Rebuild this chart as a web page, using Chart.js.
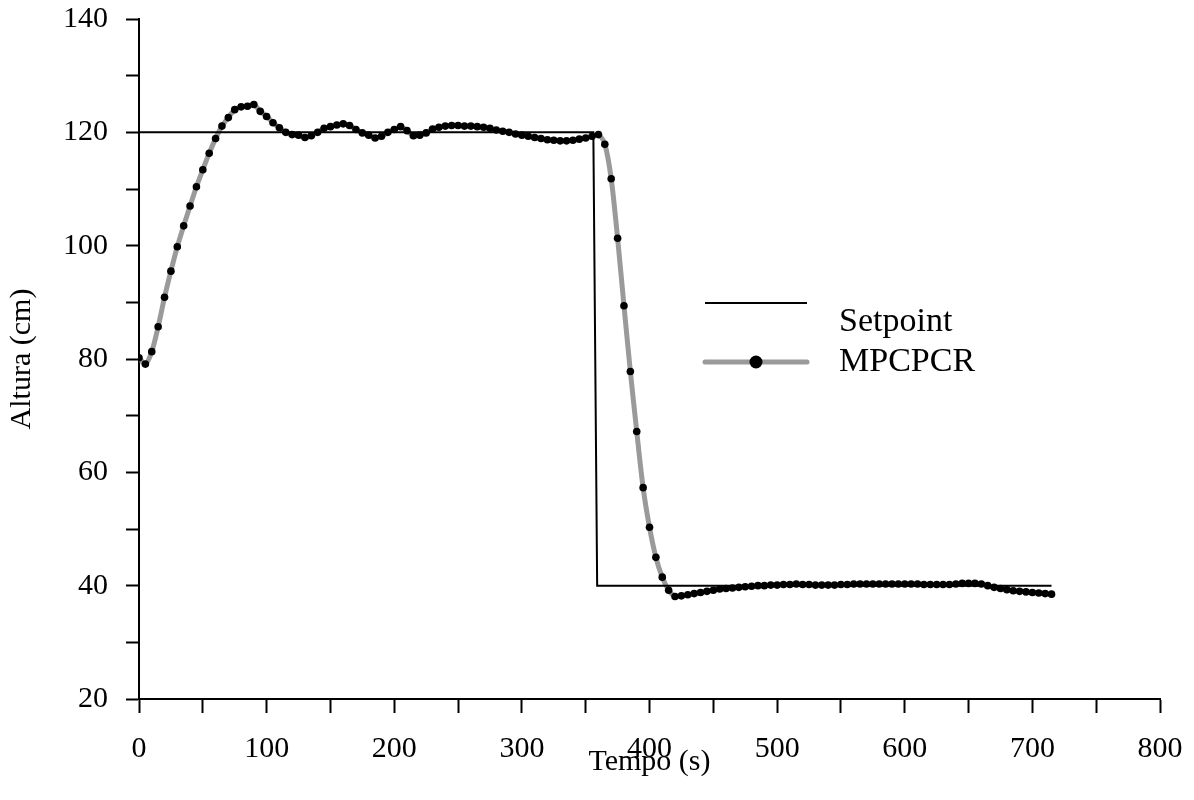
<!DOCTYPE html>
<html>
<head>
<meta charset="utf-8">
<script src="https://cdn.jsdelivr.net/npm/chart.js@4/dist/chart.umd.min.js"></script>
<style>
html,body{margin:0;padding:0;background:#fff;}
#wrap{width:1194px;height:800px;}
</style>
</head>
<body>
<div id="wrap"><canvas id="c" width="1194" height="800"></canvas></div>
<script>
const seriesNames = ['Setpoint', 'MPCPCR'];
const xTitle = 'Tempo (s)';
const yTitle = 'Altura (cm)';

const setpointTime = [0, 356, 359, 715];
const setpointValue = [120, 120, 40, 40];

const mpcTime = [
  0,5,10,15,20,25,30,35,40,45,50,55,60,65,70,75,80,85,90,95,
  100,105,110,115,120,125,130,135,140,145,150,155,160,165,170,175,180,185,190,195,
  200,205,210,215,220,225,230,235,240,245,250,255,260,265,270,275,280,285,290,295,
  300,305,310,315,320,325,330,335,340,345,350,355,360,365,370,375,380,385,390,395,
  400,405,410,415,420,425,430,435,440,445,450,455,460,465,470,475,480,485,490,495,
  500,505,510,515,520,525,530,535,540,545,550,555,560,565,570,575,580,585,590,595,
  600,605,610,615,620,625,630,635,640,645,650,655,660,665,670,675,680,685,690,695,
  700,705,710,715
];
const mpcValue = [
  80.2,79.1,81.3,85.7,90.9,95.5,99.8,103.5,107.0,110.4,113.4,116.3,118.9,121.1,122.6,124.0,124.5,124.6,124.9,123.7,
  122.8,121.7,120.8,120.0,119.6,119.5,119.1,119.4,120.0,120.7,121.0,121.3,121.5,121.2,120.5,119.9,119.5,119.0,119.3,120.0,
  120.5,121.0,120.3,119.4,119.5,119.9,120.6,120.9,121.1,121.2,121.2,121.1,121.1,121.0,120.9,120.7,120.4,120.2,120.0,119.7,
  119.5,119.3,119.1,118.9,118.7,118.6,118.5,118.5,118.6,118.8,119.0,119.3,119.6,117.9,111.8,101.3,89.4,77.8,67.2,57.3,
  50.3,45.0,41.5,39.2,38.1,38.2,38.4,38.6,38.8,39.0,39.2,39.4,39.5,39.6,39.7,39.8,39.9,40.0,40.0,40.1,
  40.1,40.2,40.2,40.3,40.2,40.2,40.1,40.1,40.1,40.1,40.2,40.2,40.3,40.3,40.3,40.3,40.3,40.3,40.3,40.3,
  40.3,40.3,40.3,40.2,40.2,40.2,40.2,40.2,40.3,40.4,40.4,40.4,40.3,40.0,39.7,39.5,39.3,39.1,39.0,38.9,
  38.8,38.7,38.6,38.5
];

const xMin = 0, xMax = 800, xStep = 50, xLabelEvery = 100;
const yMin = 20, yMax = 140, yStep = 10, yLabelEvery = 20;

const FONT = '"Liberation Serif", "Times New Roman", serif';
const FS = 30;
const LEG_FS = 34;
const GREY = '#9a9a9a';

const legendPlugin = {
  id: 'customLegend',
  afterDraw(chart) {
    const ctx = chart.ctx;
    const ca = chart.chartArea;
    const x0 = ca.left + 566, x1 = ca.left + 668, tx = ca.left + 700;
    const ds = chart.data.datasets;
    ctx.save();
    ctx.strokeStyle = ds[0].borderColor;
    ctx.lineWidth = ds[0].borderWidth;
    ctx.beginPath(); ctx.moveTo(x0, ca.top + 284); ctx.lineTo(x1, ca.top + 284); ctx.stroke();
    ctx.strokeStyle = ds[1].borderColor;
    ctx.lineWidth = ds[1].borderWidth;
    ctx.lineCap = 'round';
    ctx.beginPath(); ctx.moveTo(x0, ca.top + 343); ctx.lineTo(x1, ca.top + 343); ctx.stroke();
    ctx.fillStyle = ds[1].pointBackgroundColor;
    ctx.beginPath(); ctx.arc((x0 + x1) / 2, ca.top + 343, 6.5, 0, Math.PI * 2); ctx.fill();
    ctx.fillStyle = '#000';
    ctx.font = LEG_FS + 'px ' + FONT;
    ctx.textBaseline = 'middle';
    ctx.textAlign = 'left';
    ctx.fillText(ds[0].label, tx, ca.top + 303);
    ctx.fillText(ds[1].label, tx, ca.top + 343);
    ctx.restore();
  }
};

const ctx = document.getElementById('c').getContext('2d');
new Chart(ctx, {
  type: 'line',
  data: {
    datasets: [
      {
        label: seriesNames[0],
        data: setpointTime.map((t, i) => ({x: t, y: setpointValue[i]})),
        borderColor: '#000',
        borderWidth: 2,
        pointRadius: 0,
        tension: 0,
        order: 0
      },
      {
        label: seriesNames[1],
        data: mpcTime.map((t, i) => ({x: t, y: mpcValue[i]})),
        borderColor: GREY,
        borderWidth: 5,
        pointRadius: 3.8,
        pointBackgroundColor: '#000',
        pointBorderColor: '#000',
        pointBorderWidth: 0,
        tension: 0.3,
        order: 1
      }
    ]
  },
  options: {
    responsive: false,
    animation: false,
    events: [],
    layout: { padding: { left: 0, right: 34, top: 19, bottom: 0 } },
    plugins: { legend: { display: false }, tooltip: { enabled: false } },
    scales: {
      x: {
        type: 'linear',
        min: xMin, max: xMax,
        afterFit(s) { s.height = 101; s.paddingLeft = 0; s.paddingRight = 0; },
        border: { color: '#000', width: 2 },
        grid: { drawOnChartArea: false, drawTicks: true, tickLength: 14, tickWidth: 2, tickColor: '#000' },
        ticks: {
          stepSize: xStep, autoSkip: false, maxRotation: 0, padding: 18,
          color: '#000', font: { family: FONT, size: FS },
          callback: v => (v % xLabelEvery === 0 ? String(v) : '')
        },
        title: { display: true, text: xTitle, color: '#000', font: { family: FONT, size: FS }, padding: { top: 20, bottom: 20 } }
      },
      y: {
        type: 'linear',
        min: yMin, max: yMax,
        afterFit(s) { s.width = 139; s.paddingTop = 0; s.paddingBottom = 0; },
        border: { color: '#000', width: 2 },
        grid: { drawOnChartArea: false, drawTicks: true, tickLength: 13, tickWidth: 2, tickColor: '#000' },
        ticks: {
          stepSize: yStep, autoSkip: false, padding: 18,
          color: '#000', font: { family: FONT, size: FS },
          callback: v => (v % yLabelEvery === 0 ? String(v) : '')
        },
        title: { display: true, text: yTitle, color: '#000', font: { family: FONT, size: FS }, padding: { top: 4, bottom: 4 } }
      }
    }
  },
  plugins: [legendPlugin]
});
</script>
</body>
</html>
